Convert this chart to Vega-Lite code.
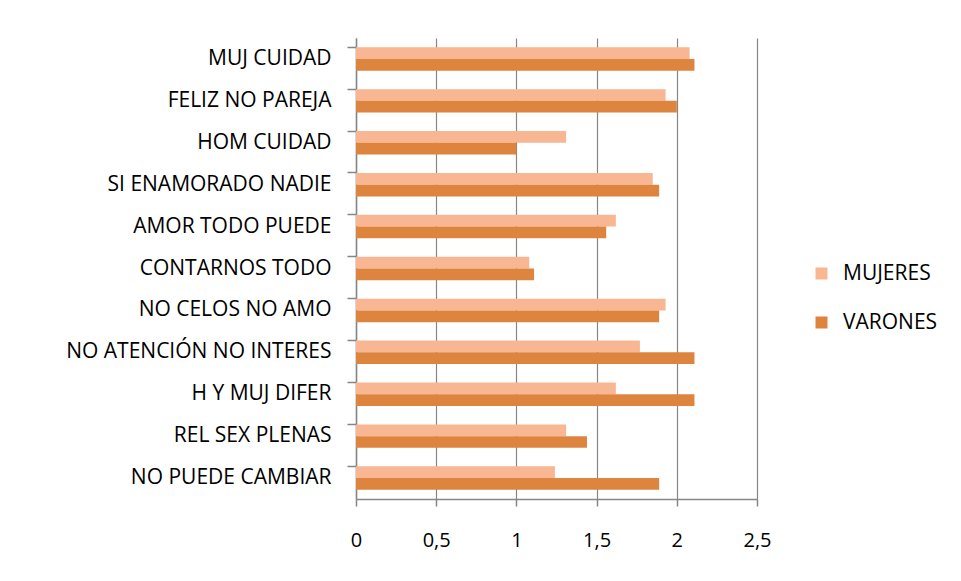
{
  "$schema": "https://vega.github.io/schema/vega-lite/v6.json",
  "width": 401,
  "height": 461,
  "autosize": {"type": "none"},
  "padding": {"left": 356, "top": 38, "right": 204, "bottom": 82},
  "background": "white",
  "data": {
    "values": [
      {"item": "MUJ CUIDAD", "grupo": "MUJERES", "valor": 2.08},
      {"item": "MUJ CUIDAD", "grupo": "VARONES", "valor": 2.11},
      {"item": "FELIZ NO PAREJA", "grupo": "MUJERES", "valor": 1.93},
      {"item": "FELIZ NO PAREJA", "grupo": "VARONES", "valor": 2.0},
      {"item": "HOM CUIDAD", "grupo": "MUJERES", "valor": 1.31},
      {"item": "HOM CUIDAD", "grupo": "VARONES", "valor": 1.0},
      {"item": "SI ENAMORADO NADIE", "grupo": "MUJERES", "valor": 1.85},
      {"item": "SI ENAMORADO NADIE", "grupo": "VARONES", "valor": 1.89},
      {"item": "AMOR TODO PUEDE", "grupo": "MUJERES", "valor": 1.62},
      {"item": "AMOR TODO PUEDE", "grupo": "VARONES", "valor": 1.56},
      {"item": "CONTARNOS TODO", "grupo": "MUJERES", "valor": 1.08},
      {"item": "CONTARNOS TODO", "grupo": "VARONES", "valor": 1.11},
      {"item": "NO CELOS NO AMO", "grupo": "MUJERES", "valor": 1.93},
      {"item": "NO CELOS NO AMO", "grupo": "VARONES", "valor": 1.89},
      {"item": "NO ATENCIÓN NO INTERES", "grupo": "MUJERES", "valor": 1.77},
      {"item": "NO ATENCIÓN NO INTERES", "grupo": "VARONES", "valor": 2.11},
      {"item": "H Y MUJ DIFER", "grupo": "MUJERES", "valor": 1.62},
      {"item": "H Y MUJ DIFER", "grupo": "VARONES", "valor": 2.11},
      {"item": "REL SEX PLENAS", "grupo": "MUJERES", "valor": 1.31},
      {"item": "REL SEX PLENAS", "grupo": "VARONES", "valor": 1.44},
      {"item": "NO PUEDE CAMBIAR", "grupo": "MUJERES", "valor": 1.24},
      {"item": "NO PUEDE CAMBIAR", "grupo": "VARONES", "valor": 1.89}
    ]
  },
  "mark": {"type": "bar"},
  "encoding": {
    "y": {
      "field": "item",
      "type": "nominal",
      "sort": null,
      "scale": {"paddingInner": 0.44, "paddingOuter": 0.22},
      "axis": {
        "title": null,
        "bandPosition": 0,
        "tickSize": 9,
        "tickColor": "#868686",
        "tickWidth": 1.5,
        "domainColor": "#868686",
        "domainWidth": 1.5,
        "labelPadding": 16,
        "labelFont": "Open Sans",
        "labelFontSize": 21,
        "labelLimit": 0,
        "labelColor": "#000000",
        "grid": false
      }
    },
    "yOffset": {
      "field": "grupo",
      "type": "nominal",
      "sort": ["MUJERES", "VARONES"],
      "scale": {"paddingInner": 0, "paddingOuter": 0}
    },
    "x": {
      "field": "valor",
      "type": "quantitative",
      "scale": {"domain": [0, 2.5], "nice": false},
      "axis": {
        "title": null,
        "values": [0, 0.5, 1, 1.5, 2, 2.5],
        "labelExpr": "replace(toString(datum.value), '.', ',')",
        "grid": true,
        "gridColor": "#868686",
        "gridWidth": 1.2,
        "tickSize": 7,
        "tickColor": "#868686",
        "tickWidth": 1.5,
        "domainColor": "#868686",
        "domainWidth": 1.5,
        "labelPadding": 24,
        "labelFont": "Open Sans",
        "labelFontSize": 20,
        "labelColor": "#000000",
        "labelFlush": false
      }
    },
    "color": {
      "field": "grupo",
      "type": "nominal",
      "scale": {"domain": ["MUJERES", "VARONES"], "range": ["#F9B692", "#DD843E"]},
      "legend": {
        "title": null,
        "orient": "none",
        "legendX": 455,
        "legendY": 225,
        "symbolType": "square",
        "symbolSize": 144,
        "symbolStrokeWidth": 0,
        "rowPadding": 27,
        "labelFont": "Open Sans",
        "labelFontSize": 21,
        "labelColor": "#000000",
        "labelOffset": 11,
        "labelLimit": 0
      }
    }
  },
  "config": {
    "view": {"stroke": null}
  }
}
